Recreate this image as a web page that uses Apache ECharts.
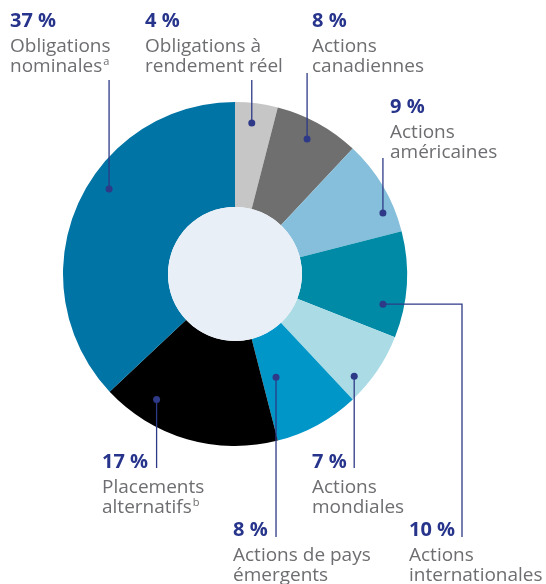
<!DOCTYPE html>
<html>
<head>
<meta charset="utf-8">
<script src="https://cdn.jsdelivr.net/npm/echarts@6/dist/echarts.min.js"></script>
<style>
  html, body { margin: 0; padding: 0; background: #ffffff; }
  #chart { width: 546px; height: 584px; }
</style>
</head>
<body>
<div id="chart"></div>
<script>
// Portfolio asset mix, clockwise from 12 o'clock
const categories = [
  'Obligations à rendement réel',
  'Actions canadiennes',
  'Actions américaines',
  'Actions internationales',
  'Actions mondiales',
  'Actions de pays émergents',
  'Placements alternatifs',
  'Obligations nominales'
];
const shares = [4, 8, 9, 10, 7, 8, 17, 37];
const labelLines = [
  ['Obligations à', 'rendement réel'],
  ['Actions', 'canadiennes'],
  ['Actions', 'américaines'],
  ['Actions', 'internationales'],
  ['Actions', 'mondiales'],
  ['Actions de pays', 'émergents'],
  ['Placements', 'alternatifs'],
  ['Obligations', 'nominales']
];
const footnotes = ['', '', '', '', '', '', 'b', 'a'];

// Styling / layout
const sliceColors = ['#c6c6c6', '#6f6f6f', '#86bfdb', '#008aa6', '#abdbe5', '#0096c8', '#000000', '#0074a4'];
const CX = 235, CY = 274, R_OUT = 172, R_IN = 67;
const NAVY = '#27348b', GREY = '#6d6e71', LINE = '#2e3a87';
const VALUE_SIZE = 20, NAME_SIZE = 19;
const BASELINE_SHIFT = 0.29; // em offset from text middle to baseline
// t: position of the anchor dot along the slice's arc (0..1), r: its radius,
// lx/ly: label left edge and value baseline, endY: where the leader stops,
// elbowX: optional horizontal run before dropping to the label
const callouts = [
  { t: 0.44, r: 152, lx: 145, ly: 27, endY: 80 },
  { t: 0.476, r: 153, lx: 312, ly: 27, endY: 73 },
  { t: 0.753, r: 160, lx: 390, ly: 113, endY: 158 },
  { t: 0.72, r: 151, lx: 409, ly: 536, endY: 537, elbowX: 462 },
  { t: 0.754, r: 157, lx: 312, ly: 468, endY: 468 },
  { t: 0.747, r: 111, lx: 233, ly: 536, endY: 537 },
  { t: 0.758, r: 148, lx: 102, ly: 468, endY: 468 },
  { t: 0.58, r: 152, lx: 10, ly: 27, endY: 80 }
];

const FONT = '"Open Sans", "Noto Sans", sans-serif';
const chart = echarts.init(document.getElementById('chart'), null, { renderer: 'canvas' });

chart.setOption({
  animation: false,
  backgroundColor: '#ffffff',
  series: [
    {
      type: 'pie',
      center: [CX, CY],
      radius: [R_IN, R_OUT],
      startAngle: 90,
      clockwise: true,
      silent: true,
      label: { show: false },
      labelLine: { show: false },
      data: categories.map((name, i) => ({
        name, value: shares[i], itemStyle: { color: sliceColors[i] }
      }))
    },
    {
      type: 'pie',
      center: [CX, CY],
      radius: [0, R_IN],
      silent: true,
      label: { show: false },
      labelLine: { show: false },
      data: [{ value: 1, name: 'hole', itemStyle: { color: '#e9eff7' } }]
    }
  ]
});

// Leader lines and labels anchored on the slice geometry laid out by the pie
function buildCallouts() {
  const data = chart.getModel().getSeriesByIndex(0).getData();
  const els = [];
  shares.forEach((v, i) => {
    const lay = data.getItemLayout(i);
    const c = callouts[i];
    const a = lay.startAngle + c.t * (lay.endAngle - lay.startAngle);
    const dx = lay.cx + c.r * Math.cos(a);
    const dy = lay.cy + c.r * Math.sin(a);
    const pts = [[dx, dy]];
    if (c.elbowX != null) {
      pts.push([c.elbowX, dy]);
      pts.push([c.elbowX, c.endY]);
    } else {
      pts.push([dx, c.endY]);
    }
    els.push({
      type: 'polyline', silent: true, z: 10,
      shape: { points: pts },
      style: { stroke: LINE, lineWidth: 1.3, fill: null }
    });
    els.push({
      type: 'circle', silent: true, z: 11,
      shape: { cx: dx, cy: dy, r: 3.5 },
      style: { fill: LINE }
    });
    els.push({
      type: 'text', silent: true, z: 12,
      style: {
        x: c.lx, y: c.ly - BASELINE_SHIFT * VALUE_SIZE, text: v + ' %',
        font: 'bold ' + VALUE_SIZE + 'px ' + FONT, fill: NAVY,
        align: 'left', verticalAlign: 'middle'
      }
    });
    labelLines[i].forEach((ln, k) => {
      const last = k === labelLines[i].length - 1;
      const txt = last && footnotes[i] ? ln + '{sup|' + footnotes[i] + '}' : ln;
      els.push({
        type: 'text', silent: true, z: 12,
        style: {
          x: c.lx, y: c.ly + 25 + k * 20 - BASELINE_SHIFT * NAME_SIZE, text: txt,
          font: NAME_SIZE + 'px ' + FONT, fill: GREY,
          align: 'left', verticalAlign: 'middle',
          rich: {
            sup: { fontSize: 11, fontFamily: FONT, fill: GREY, padding: [0, 0, 9, 1] }
          }
        }
      });
    });
  });
  chart.setOption({ graphic: { elements: els } });
}
buildCallouts();
</script>
</body>
</html>
